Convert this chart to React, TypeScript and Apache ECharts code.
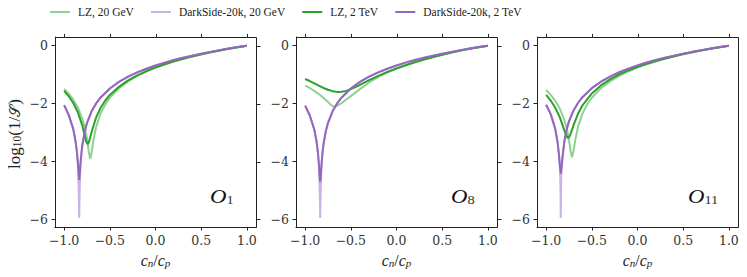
import React, { useEffect, useRef } from "react";
import * as echarts from "echarts";

const SERIES_NAMES = ["LZ, 20 GeV", "DarkSide-20k, 20 GeV", "LZ, 2 TeV", "DarkSide-20k, 2 TeV"];
const SERIES_COLORS = ["#8fd18f", "#c8b3e2", "#2ca02c", "#9467bd"];
const PANEL_SUBSCRIPTS = ["1", "8", "11"];
const X_TICKS = [-1, -0.5, 0, 0.5, 1];
const Y_TICKS = [-6, -4, -2, 0];

// ---------- Panel O1 ----------
const P1_LZ20_X = [-1, -0.95, -0.9, -0.85, -0.8, -0.77, -0.75, -0.73, -0.715, -0.7, -0.68, -0.65, -0.6, -0.55, -0.5, -0.4, -0.3, -0.2, -0.1, 0, 0.1, 0.2, 0.3, 0.4, 0.5, 0.6, 0.7, 0.8, 0.9, 1];
const P1_LZ20_Y = [-1.49, -1.657, -1.863, -2.134, -2.524, -2.878, -3.215, -3.67, -3.91, -3.7, -3.27, -2.807, -2.335, -2.028, -1.8, -1.472, -1.232, -1.045, -0.891, -0.76, -0.652, -0.551, -0.46, -0.377, -0.302, -0.232, -0.168, -0.108, -0.053, 0];
const P1_DS20_X = [-1, -0.95, -0.9, -0.875, -0.86, -0.85, -0.845, -0.84, -0.835, -0.83, -0.825, -0.82, -0.81, -0.8, -0.775, -0.75, -0.7, -0.65, -0.6, -0.5, -0.4, -0.3, -0.2, -0.1, 0, 0.1, 0.2, 0.3, 0.4, 0.5, 0.6, 0.7, 0.8, 0.9, 1];
const P1_DS20_Y = [-2.05, -2.39, -2.88, -3.3, -3.68, -4.1, -4.5, -5.07, -5.95, -5.07, -4.5, -4.1, -3.7, -3.43, -2.97, -2.67, -2.267, -1.994, -1.786, -1.477, -1.251, -1.071, -0.922, -0.795, -0.684, -0.586, -0.497, -0.417, -0.344, -0.276, -0.214, -0.155, -0.1, -0.049, 0];
const P1_LZ2T_X = [-1, -0.95, -0.9, -0.85, -0.8, -0.78, -0.76, -0.744, -0.73, -0.71, -0.7, -0.65, -0.6, -0.55, -0.5, -0.4, -0.3, -0.2, -0.1, 0, 0.1, 0.2, 0.3, 0.4, 0.5, 0.6, 0.7, 0.8, 0.9, 1];
const P1_LZ2T_Y = [-1.56, -1.745, -1.979, -2.296, -2.77, -3.03, -3.3, -3.4, -3.34, -3.11, -2.99, -2.48, -2.14, -1.894, -1.7, -1.42, -1.2, -1.025, -0.875, -0.75, -0.64, -0.54, -0.452, -0.37, -0.297, -0.228, -0.166, -0.107, -0.052, 0];
const P1_DS2T_X = [-1, -0.95, -0.9, -0.875, -0.86, -0.85, -0.84, -0.835, -0.83, -0.82, -0.81, -0.8, -0.775, -0.75, -0.7, -0.65, -0.6, -0.5, -0.4, -0.3, -0.2, -0.1, 0, 0.1, 0.2, 0.3, 0.4, 0.5, 0.6, 0.7, 0.8, 0.9, 1];
const P1_DS2T_Y = [-2.05, -2.39, -2.88, -3.3, -3.66, -4.02, -4.45, -4.63, -4.45, -4.02, -3.68, -3.42, -2.97, -2.67, -2.267, -1.994, -1.786, -1.477, -1.251, -1.071, -0.922, -0.795, -0.684, -0.586, -0.497, -0.417, -0.344, -0.276, -0.214, -0.155, -0.1, -0.049, 0];

// ---------- Panel O8 ----------
const P2_LZ20_X = [-1, -0.95, -0.9, -0.85, -0.8, -0.75, -0.72, -0.69, -0.66, -0.62, -0.58, -0.55, -0.5, -0.45, -0.4, -0.3, -0.2, -0.1, 0, 0.1, 0.2, 0.3, 0.4, 0.5, 0.6, 0.7, 0.8, 0.9, 1];
const P2_LZ20_Y = [-1.38, -1.46, -1.56, -1.67, -1.8, -1.94, -2.04, -2.11, -2.09, -2.02, -1.93, -1.86, -1.74, -1.62, -1.5, -1.27, -1.08, -0.925, -0.795, -0.68, -0.577, -0.481, -0.393, -0.312, -0.238, -0.171, -0.109, -0.053, 0];
const P2_DS20_X = [-1, -0.95, -0.9, -0.875, -0.86, -0.85, -0.845, -0.84, -0.835, -0.83, -0.825, -0.82, -0.81, -0.8, -0.775, -0.75, -0.7, -0.65, -0.6, -0.5, -0.4, -0.3, -0.2, -0.1, 0, 0.1, 0.2, 0.3, 0.4, 0.5, 0.6, 0.7, 0.8, 0.9, 1];
const P2_DS20_Y = [-2.07, -2.4, -2.89, -3.31, -3.69, -4.1, -4.5, -5.07, -5.95, -5.07, -4.5, -4.1, -3.7, -3.43, -2.97, -2.67, -2.267, -1.994, -1.786, -1.477, -1.251, -1.071, -0.922, -0.795, -0.684, -0.586, -0.497, -0.417, -0.344, -0.276, -0.214, -0.155, -0.1, -0.049, 0];
const P2_LZ2T_X = [-1, -0.95, -0.9, -0.85, -0.8, -0.75, -0.7, -0.65, -0.6, -0.55, -0.5, -0.45, -0.4, -0.3, -0.2, -0.1, 0, 0.1, 0.2, 0.3, 0.4, 0.5, 0.6, 0.7, 0.8, 0.9, 1];
const P2_LZ2T_Y = [-1.15, -1.22, -1.3, -1.38, -1.46, -1.52, -1.57, -1.595, -1.59, -1.56, -1.5, -1.43, -1.35, -1.19, -1.04, -0.905, -0.785, -0.675, -0.573, -0.478, -0.39, -0.31, -0.237, -0.17, -0.109, -0.053, 0];
const P2_DS2T_X = [-1, -0.95, -0.9, -0.875, -0.86, -0.85, -0.84, -0.835, -0.83, -0.82, -0.81, -0.8, -0.775, -0.75, -0.7, -0.65, -0.6, -0.5, -0.4, -0.3, -0.2, -0.1, 0, 0.1, 0.2, 0.3, 0.4, 0.5, 0.6, 0.7, 0.8, 0.9, 1];
const P2_DS2T_Y = [-2.07, -2.4, -2.89, -3.31, -3.69, -4.06, -4.56, -4.69, -4.56, -4.07, -3.69, -3.42, -2.97, -2.67, -2.267, -1.994, -1.786, -1.477, -1.251, -1.071, -0.922, -0.795, -0.684, -0.586, -0.497, -0.417, -0.344, -0.276, -0.214, -0.155, -0.1, -0.049, 0];

// ---------- Panel O11 ----------
const P3_LZ20_X = [-1, -0.95, -0.9, -0.85, -0.8, -0.77, -0.75, -0.73, -0.716, -0.7, -0.68, -0.65, -0.6, -0.55, -0.5, -0.4, -0.3, -0.2, -0.1, 0, 0.1, 0.2, 0.3, 0.4, 0.5, 0.6, 0.7, 0.8, 0.9, 1];
const P3_LZ20_Y = [-1.53, -1.697, -1.904, -2.175, -2.567, -2.92, -3.25, -3.67, -3.85, -3.64, -3.236, -2.79, -2.327, -2.022, -1.796, -1.47, -1.231, -1.044, -0.89, -0.759, -0.646, -0.545, -0.455, -0.374, -0.299, -0.23, -0.167, -0.108, -0.052, 0];
const P3_DS20_X = [-1, -0.95, -0.9, -0.875, -0.86, -0.85, -0.845, -0.8425, -0.84, -0.8375, -0.835, -0.83, -0.82, -0.8, -0.775, -0.75, -0.7, -0.65, -0.6, -0.5, -0.4, -0.3, -0.2, -0.1, 0, 0.1, 0.2, 0.3, 0.4, 0.5, 0.6, 0.7, 0.8, 0.9, 1];
const P3_DS20_Y = [-2.04, -2.362, -2.879, -3.324, -3.76, -4.2, -4.6, -5.1, -5.95, -5.1, -4.6, -4.25, -3.83, -3.3, -2.89, -2.614, -2.234, -1.97, -1.769, -1.467, -1.243, -1.065, -0.917, -0.791, -0.681, -0.583, -0.496, -0.416, -0.343, -0.275, -0.213, -0.155, -0.1, -0.049, 0];
const P3_LZ2T_X = [-1, -0.95, -0.9, -0.85, -0.8, -0.78, -0.76, -0.74, -0.72, -0.7, -0.65, -0.6, -0.5, -0.4, -0.3, -0.2, -0.1, 0, 0.1, 0.2, 0.3, 0.4, 0.5, 0.6, 0.7, 0.8, 0.9, 1];
const P3_LZ2T_Y = [-1.7, -1.895, -2.142, -2.474, -2.927, -3.108, -3.19, -3.11, -2.935, -2.742, -2.342, -2.05, -1.648, -1.372, -1.161, -0.992, -0.852, -0.728, -0.622, -0.527, -0.44, -0.362, -0.29, -0.224, -0.162, -0.105, -0.051, 0];
const P3_DS2T_X = [-1, -0.95, -0.9, -0.875, -0.86, -0.85, -0.84, -0.83, -0.82, -0.8, -0.775, -0.75, -0.7, -0.65, -0.6, -0.5, -0.4, -0.3, -0.2, -0.1, 0, 0.1, 0.2, 0.3, 0.4, 0.5, 0.6, 0.7, 0.8, 0.9, 1];
const P3_DS2T_Y = [-2.04, -2.362, -2.879, -3.324, -3.744, -4.13, -4.42, -4.17, -3.81, -3.29, -2.89, -2.614, -2.234, -1.97, -1.769, -1.467, -1.243, -1.065, -0.917, -0.791, -0.681, -0.583, -0.496, -0.416, -0.343, -0.275, -0.213, -0.155, -0.1, -0.049, 0];

const PANELS = [
  [[P1_LZ20_X, P1_LZ20_Y], [P1_DS20_X, P1_DS20_Y], [P1_LZ2T_X, P1_LZ2T_Y], [P1_DS2T_X, P1_DS2T_Y]],
  [[P2_LZ20_X, P2_LZ20_Y], [P2_DS20_X, P2_DS20_Y], [P2_LZ2T_X, P2_LZ2T_Y], [P2_DS2T_X, P2_DS2T_Y]],
  [[P3_LZ20_X, P3_LZ20_Y], [P3_DS20_X, P3_DS20_Y], [P3_LZ2T_X, P3_LZ2T_Y], [P3_DS2T_X, P3_DS2T_Y]],
];

const GRID_LEFTS = [55, 296, 537];
const GRID_W = 201;
const GRID_TOP = 37;
const GRID_H = 190;
const SERIF = "'Liberation Serif', 'DejaVu Serif', serif";
const TICK_FONT = "'DejaVu Serif', serif";
const AXIS_COLOR = "#222";
const X_MIN = -1.1;
const X_MAX = 1.1;
const Y_MIN = -6.26;
const Y_MAX = 0.3;
const TICK_LEN = 3.5;

const fmtX = (v: number) => (v < 0 ? "\u2212" : "") + Math.abs(v).toFixed(1);
const fmtY = (v: number) => (v < 0 ? "\u2212" : "") + Math.abs(v).toFixed(0);

// layout helpers for the mirrored (top/right) frame ticks only
const frameX = (i: number, v: number) => GRID_LEFTS[i] + ((v - X_MIN) / (X_MAX - X_MIN)) * GRID_W;
const frameY = (v: number) => GRID_TOP + ((Y_MAX - v) / (Y_MAX - Y_MIN)) * GRID_H;

export default function App() {
  const ref = useRef<HTMLDivElement>(null);
  useEffect(() => {
    if (!ref.current) return;
    const chart = echarts.init(ref.current, undefined, { renderer: "svg" });
    const grids: any[] = [];
    const xAxes: any[] = [];
    const yAxes: any[] = [];
    const series: any[] = [];
    const graphics: any[] = [];
    const lineStyle = { color: AXIS_COLOR, width: 1 };
    PANELS.forEach((panel, i) => {
      grids.push({ left: GRID_LEFTS[i], top: GRID_TOP, width: GRID_W, height: GRID_H, containLabel: false });
      xAxes.push({
        gridIndex: i, type: "value", min: X_MIN, max: X_MAX, position: "bottom",
        axisLine: { show: true, onZero: false, lineStyle },
        axisTick: { show: true, customValues: X_TICKS, length: TICK_LEN, lineStyle },
        splitLine: { show: false },
        axisLabel: { customValues: X_TICKS, formatter: fmtX, fontFamily: TICK_FONT, fontSize: 12.5, color: "#333", margin: 7 },
        name: "{i|c}{s|n}{r|/}{i|c}{s|p}", nameLocation: "middle", nameGap: 25,
        nameTextStyle: {
          rich: {
            i: { fontFamily: SERIF, fontStyle: "italic", fontSize: 16, color: AXIS_COLOR, verticalAlign: "bottom", lineHeight: 16 },
            s: { fontFamily: SERIF, fontStyle: "italic", fontSize: 11, color: AXIS_COLOR, verticalAlign: "bottom", lineHeight: 10 },
            r: { fontFamily: SERIF, fontSize: 16, color: AXIS_COLOR, verticalAlign: "bottom", lineHeight: 16 },
          },
        },
      });
      yAxes.push({
        gridIndex: i, type: "value", min: Y_MIN, max: Y_MAX, position: "left",
        axisLine: { show: true, onZero: false, lineStyle },
        axisTick: { show: true, customValues: Y_TICKS, length: TICK_LEN, lineStyle },
        splitLine: { show: false },
        axisLabel: { customValues: Y_TICKS, formatter: fmtY, fontFamily: TICK_FONT, fontSize: 12.5, color: "#333", margin: 7 },
      });
      panel.forEach(([xs, ys], k) => {
        series.push({
          name: SERIES_NAMES[k], type: "line", xAxisIndex: i, yAxisIndex: i,
          data: xs.map((x: number, j: number) => [x, ys[j]]),
          showSymbol: false, symbol: "none", smooth: false,
          lineStyle: { color: SERIES_COLORS[k], width: 2 },
          itemStyle: { color: SERIES_COLORS[k] },
          z: 2 + k,
        });
      });
      // panel frame (rect outline) and outward ticks on top/right edges, as small filled rects
      graphics.push({
        type: "rect", z: 100, silent: true,
        shape: { x: GRID_LEFTS[i] + 0.5, y: GRID_TOP + 0.5, width: GRID_W, height: GRID_H },
        style: { fill: "none", stroke: AXIS_COLOR, lineWidth: 1 },
      });
      X_TICKS.forEach((v) => {
        const px = Math.round(frameX(i, v));
        graphics.push({
          type: "rect", z: 100, silent: true,
          shape: { x: px, y: GRID_TOP + 0.5 - TICK_LEN, width: 1, height: TICK_LEN },
          style: { fill: AXIS_COLOR },
        });
      });
      Y_TICKS.forEach((v) => {
        const py = Math.round(frameY(v));
        graphics.push({
          type: "rect", z: 100, silent: true,
          shape: { x: GRID_LEFTS[i] + GRID_W + 1, y: py, width: TICK_LEN, height: 1 },
          style: { fill: AXIS_COLOR },
        });
      });
      graphics.push({
        type: "text", x: GRID_LEFTS[i] + GRID_W - 46 + (i === 2 ? -4 : 0), y: 186,
        scaleX: 1.2,
        style: {
          text: "{o|O}{s|" + PANEL_SUBSCRIPTS[i] + "}",
          rich: {
            o: { fontFamily: SERIF, fontStyle: "italic", fontSize: 19, fill: "#111", verticalAlign: "bottom", lineHeight: 20 },
            s: { fontFamily: SERIF, fontSize: 12, fill: "#333", verticalAlign: "bottom", lineHeight: 13 },
          },
        },
      });
    });
    graphics.push({
      type: "text", x: 13, y: 134, rotation: Math.PI / 2,
      style: {
        text: "{a|log}{b|10}{a|(1/}{c|\uD835\uDCAE}{a|)}",
        align: "center", verticalAlign: "middle",
        rich: {
          a: { fontFamily: SERIF, fontSize: 17, fill: AXIS_COLOR, verticalAlign: "bottom", lineHeight: 19 },
          b: { fontFamily: SERIF, fontSize: 11.5, fill: AXIS_COLOR, verticalAlign: "bottom", lineHeight: 12 },
          c: { fontFamily: "'DejaVu Serif', 'DejaVu Sans', serif", fontSize: 15, fill: AXIS_COLOR, verticalAlign: "bottom", lineHeight: 19 },
        },
      },
    });
    chart.setOption({
      animation: false,
      backgroundColor: "#fff",
      legend: {
        data: SERIES_NAMES, top: 1, left: 45, icon: "rect", itemWidth: 20, itemHeight: 2, itemGap: 17,
        textStyle: { fontFamily: SERIF, fontSize: 11.5, color: AXIS_COLOR, padding: [0, 0, 0, 3] },
      },
      grid: grids, xAxis: xAxes, yAxis: yAxes, series, graphic: graphics,
    });
    return () => chart.dispose();
  }, []);
  return <div ref={ref} style={{ width: 747, height: 277, margin: -8 }} />;
}
